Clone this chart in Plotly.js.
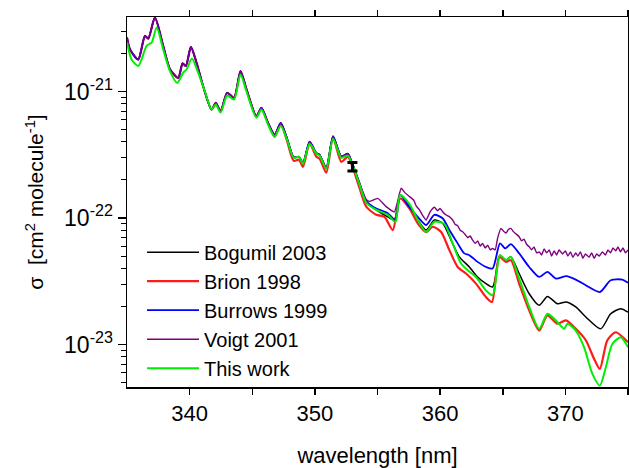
<!DOCTYPE html>
<html>
<head>
<meta charset="utf-8">
<script src="https://cdn.plot.ly/plotly-3.0.1.min.js"></script>
<style>html,body{margin:0;padding:0;background:#fff;}#chart{width:629px;height:468px;}</style>
</head>
<body>
<div id="chart"></div>
<script>
// ---- data (wavelength in nm, cross section in cm^2 molecule^-1) ----
var wlBurrows = [335.0,335.24,335.90,336.43,336.70,337.23,337.89,338.43,339.09,339.44,339.70,340.10,340.55,341.08,341.75,342.09,342.47,343.0,343.55,344.06,344.54,345.33,345.73,346.26,346.79,347.27,347.75,348.31,348.73,349.05,349.58,350.12,350.38,350.91,351.45,352.11,352.63,353.03,353.57,354.10,354.90,355.82,356.43,356.81,357.41,358.21,358.88,359.54,360.20,360.74,361.40,361.93,362.33,362.99,363.66,364.19,364.78,365.20,365.65,366.31,367.11,367.91,368.57,369.24,370.08,370.83,371.63,372.75,373.62,374.55,375.0];
var sBurrows = [2.67e-21,2.15e-21,1.79e-21,2.75e-21,2.62e-21,3.85e-21,2.29e-21,1.50e-21,1.28e-21,1.67e-21,1.59e-21,2.25e-21,1.69e-21,1.10e-21,7.2e-22,8.13e-22,6.98e-22,9.77e-22,8.91e-22,1.45e-21,1.04e-21,6.37e-22,7.43e-22,5.65e-22,4.56e-22,5.65e-22,4.35e-22,3.02e-22,3.05e-22,2.72e-22,4.01e-22,3.26e-22,3.16e-22,2.49e-22,4.42e-22,3.07e-22,3.22e-22,2.63e-22,1.88e-22,1.35e-22,1.19e-22,1.09e-22,9.64e-23,1.52e-22,1.27e-22,1.02e-22,8.80e-23,1.06e-22,9.95e-23,8.03e-23,6.30e-23,5.25e-23,5.08e-23,4.50e-23,4.10e-23,3.99e-23,6.30e-23,5.75e-23,6.22e-23,5.25e-23,4.10e-23,3.42e-23,3.75e-23,3.32e-23,3.47e-23,3.26e-23,2.94e-23,2.60e-23,3.22e-23,3.26e-23,3.07e-23];

var wlVoigt = [335.0,335.24,335.90,336.43,336.70,337.23,337.89,338.43,339.09,339.44,339.70,340.10,340.55,341.08,341.75,342.09,342.47,343.0,343.55,344.06,344.54,345.33,345.73,346.26,346.79,347.27,347.75,348.31,348.73,349.05,349.58,350.12,350.38,350.91,351.45,352.11,352.63,353.03,353.57,354.10,354.36,355.02,355.69,356.35,356.89,357.2,357.55,357.9,358.1,358.35,358.6,358.88,359.2,359.54,359.8,360.0,360.20,360.45,360.7,361.0,361.2,361.4,361.6,361.80,362.0,362.2,362.4,362.59,362.8,363.0,363.2,363.39,363.6,363.8,364.0,364.19,364.4,364.6,364.86,365.05,365.26,365.45,365.65,365.85,366.05,366.31,366.5,366.7,366.9,367.11,367.3,367.5,367.7,367.91,368.1,368.3,368.5,368.71,368.9,369.1,369.3,369.5,369.77,370.0,370.2,370.4,370.6,370.83,371.0,371.2,371.4,371.6,371.89,372.1,372.3,372.5,372.7,372.95,373.2,373.4,373.6,373.8,374.02,374.2,374.4,374.6,374.8,375.0];
var sVoigt = [2.67e-21,2.15e-21,1.79e-21,2.75e-21,2.62e-21,3.85e-21,2.29e-21,1.50e-21,1.28e-21,1.67e-21,1.59e-21,2.25e-21,1.69e-21,1.10e-21,7.2e-22,8.13e-22,6.98e-22,9.77e-22,8.91e-22,1.45e-21,1.04e-21,6.37e-22,7.43e-22,5.65e-22,4.56e-22,5.65e-22,4.35e-22,3.02e-22,3.05e-22,2.72e-22,4.01e-22,3.26e-22,3.16e-22,2.49e-22,4.42e-22,3.07e-22,3.22e-22,2.63e-22,1.88e-22,1.40e-22,1.35e-22,1.43e-22,1.23e-22,1.12e-22,1.72e-22,1.58e-22,1.48e-22,1.38e-22,1.24e-22,1.16e-22,1.05e-22,9.64e-23,1.12e-22,1.22e-22,1.14e-22,1.19e-22,1.12e-22,1.06e-22,1.03e-22,9.64e-23,8.9e-23,8.7e-23,8.0e-23,7.78e-23,7.4e-23,7.0e-23,7.2e-23,6.69e-23,6.3e-23,6.6e-23,6.0e-23,6.3e-23,5.8e-23,6.1e-23,5.6e-23,5.75e-23,5.6e-23,7.0e-23,8.28e-23,7.9e-23,7.6e-23,8.1e-23,8.28e-23,7.8e-23,7.5e-23,7.11e-23,6.6e-23,6.8e-23,6.2e-23,5.92e-23,5.6e-23,5.9e-23,5.3e-23,5.40e-23,5.1e-23,5.7e-23,5.3e-23,5.6e-23,5.0e-23,5.5e-23,5.1e-23,5.6e-23,5.2e-23,5.5e-23,5.0e-23,5.4e-23,4.9e-23,5.3e-23,5.0e-23,5.4e-23,4.8e-23,5.2e-23,4.9e-23,5.3e-23,4.8e-23,5.2e-23,5.0e-23,5.4e-23,5.1e-23,5.6e-23,5.3e-23,5.8e-23,5.5e-23,5.9e-23,5.4e-23,5.8e-23,5.3e-23,5.6e-23];

var wlBogumil = [335.0,335.24,335.90,336.43,336.70,337.23,337.89,338.43,339.09,339.44,339.70,340.10,340.55,341.08,341.75,342.09,342.47,343.0,343.55,344.06,344.54,345.33,345.73,346.26,346.79,347.27,347.75,348.31,348.73,349.05,349.58,350.12,350.38,350.91,351.45,352.11,352.63,353.03,353.57,354.10,354.90,355.82,356.35,356.81,357.55,358.21,358.88,359.54,360.20,360.87,361.53,362.33,362.99,363.66,364.19,364.78,365.26,365.65,366.31,367.11,367.91,368.57,369.37,370.08,370.83,371.63,372.82,373.62,374.42,375.0];
var sBogumil = [2.67e-21,2.15e-21,1.79e-21,2.75e-21,2.62e-21,3.85e-21,2.29e-21,1.50e-21,1.28e-21,1.67e-21,1.59e-21,2.25e-21,1.69e-21,1.10e-21,7.2e-22,8.13e-22,6.98e-22,9.77e-22,8.91e-22,1.45e-21,1.04e-21,6.37e-22,7.43e-22,5.65e-22,4.56e-22,5.65e-22,4.35e-22,3.02e-22,3.05e-22,2.72e-22,4.01e-22,3.26e-22,3.16e-22,2.49e-22,4.42e-22,3.07e-22,3.22e-22,2.63e-22,1.85e-22,1.36e-22,1.16e-22,1.02e-22,9.64e-23,1.52e-22,1.23e-22,9.64e-23,8.03e-23,9.64e-23,9.08e-23,6.69e-23,4.93e-23,4.10e-23,3.42e-23,3.03e-23,2.85e-23,5.08e-23,4.65e-23,4.93e-23,3.64e-23,2.52e-23,2.04e-23,2.40e-23,2.10e-23,2.17e-23,1.98e-23,1.65e-23,1.33e-23,1.75e-23,1.92e-23,1.80e-23];

var wlBrion = [335.0,335.24,335.90,336.43,336.70,337.23,337.89,338.43,339.09,339.44,339.70,340.10,340.55,341.08,341.75,342.09,342.47,343.0,343.55,344.06,344.54,345.33,345.73,346.26,346.79,347.27,347.75,348.31,348.73,349.05,349.58,350.12,350.38,350.91,351.45,352.11,352.63,353.03,353.57,354.10,354.90,355.56,356.22,356.81,357.55,358.21,358.88,359.41,360.08,360.74,361.40,362.07,362.86,363.66,364.14,364.72,365.26,365.65,366.31,367.11,367.91,368.57,369.37,370.04,370.83,371.63,372.29,372.75,373.35,374.02,375.0];
var sBrion = [2.67e-21,2.15e-21,1.79e-21,2.75e-21,2.62e-21,3.85e-21,2.29e-21,1.50e-21,1.28e-21,1.67e-21,1.59e-21,2.25e-21,1.69e-21,1.10e-21,7.2e-22,8.13e-22,6.98e-22,9.77e-22,8.91e-22,1.45e-21,1.04e-21,6.37e-22,7.43e-22,5.65e-22,4.39e-22,5.57e-22,4.16e-22,2.83e-22,2.89e-22,2.54e-22,3.87e-22,3.05e-22,2.94e-22,2.28e-22,4.31e-22,2.78e-22,3.05e-22,2.49e-22,1.72e-22,1.23e-22,1.06e-22,1.02e-22,8.03e-23,1.43e-22,1.19e-22,9.08e-23,7.74e-23,8.53e-23,7.74e-23,5.57e-23,4.10e-23,3.64e-23,3.03e-23,2.37e-23,2.17e-23,4.93e-23,4.50e-23,4.65e-23,3.03e-23,1.86e-23,1.29e-23,1.70e-23,1.46e-23,1.55e-23,1.33e-23,1.08e-23,7.71e-24,6.41e-24,1.08e-23,1.25e-23,1.04e-23];

var wlThis = [335.0,335.37,335.90,336.57,336.97,337.37,337.89,338.43,339.01,339.49,339.76,340.18,340.68,341.22,341.75,342.09,342.47,343.0,343.55,344.06,344.54,345.33,345.73,346.26,346.79,347.27,347.75,348.31,348.73,349.05,349.58,350.12,350.38,350.91,351.45,352.11,352.63,353.03,353.57,354.10,354.90,355.82,356.43,356.81,357.55,358.21,358.88,359.54,360.34,361.00,361.67,362.20,362.86,363.66,364.19,364.78,365.26,365.65,366.31,367.11,367.91,368.57,369.24,369.90,370.16,370.83,371.49,372.16,372.75,373.23,373.75,374.42,375.0];
var sThis = [2.44e-21,1.79e-21,1.59e-21,2.29e-21,2.44e-21,3.20e-21,2.15e-21,1.45e-21,1.17e-21,1.41e-21,1.50e-21,1.82e-21,1.41e-21,1.00e-21,7.2e-22,7.88e-22,6.81e-22,9.29e-22,8.64e-22,1.36e-21,1.00e-21,6.22e-22,7.20e-22,5.47e-22,4.39e-22,5.37e-22,4.24e-22,2.99e-22,3.05e-22,2.68e-22,3.87e-22,3.22e-22,3.11e-22,2.45e-22,4.24e-22,2.99e-22,3.11e-22,2.59e-22,1.83e-22,1.32e-22,1.16e-22,1.06e-22,9.35e-23,1.52e-22,1.29e-22,9.64e-23,7.78e-23,9.35e-23,8.96e-23,6.30e-23,4.37e-23,3.87e-23,3.42e-23,2.68e-23,2.45e-23,5.08e-23,4.65e-23,4.93e-23,3.32e-23,1.98e-23,1.33e-23,1.75e-23,1.55e-23,1.33e-23,1.46e-23,1.29e-23,9.52e-24,5.85e-24,4.73e-24,6.61e-24,1.01e-23,1.14e-23,9.52e-24];

var errWl = [353.0];
var errVal = [2.55e-22];
var errSize = [0.2e-22];

var xTickVals = [340,345,350,355,360,365,370,375];
var xTickText = ['340','','350','','360','','370',''];
var yTickVals = [1e-23,1e-22,1e-21];
var yTickText = ['10<sup>-23</sup>','10<sup>-22</sup>','10<sup>-21</sup>'];
var yMinorVals = [];
[1e-24,1e-23,1e-22,1e-21].forEach(function(d){for(var k=2;k<=9;k++){yMinorVals.push(k*d);}});

var FONT = 'Liberation Sans, Arial, Helvetica, sans-serif';
function tr(name, x, y, color, w, sm) {
  return {type:'scatter', mode:'lines', name:name, x:x, y:y,
          line:{color:color, width:w, shape:'spline', smoothing:sm}, hoverinfo:'skip'};
}
var data = [
  tr('Bogumil 2003', wlBogumil, sBogumil, '#000000', 1.5, 0.7),
  tr('Brion 1998', wlBrion, sBrion, '#ff1a1a', 2.2, 0.7),
  tr('Burrows 1999', wlBurrows, sBurrows, '#0000ff', 1.8, 0.7),
  tr('Voigt 2001', wlVoigt, sVoigt, '#800080', 1.4, 0.4),
  tr('This work', wlThis, sThis, '#00ee00', 2, 0.7),
  {type:'scatter', mode:'markers', x:errWl, y:errVal, showlegend:false, hoverinfo:'skip',
   marker:{size:3, color:'#000'},
   error_y:{type:'data', array:errSize, arrayminus:errSize, color:'#000', thickness:3, width:5}}
];
var layout = {
  width:629, height:468,
  margin:{l:127, r:1, t:17, b:81, pad:0},
  paper_bgcolor:'#fff', plot_bgcolor:'#fff',
  font:{family:FONT, color:'#000'},
  showlegend:true,
  legend:{x:0.03, y:0.417, xanchor:'left', yanchor:'top', bgcolor:'rgba(0,0,0,0)',
          font:{family:FONT, size:20, color:'#000'}, itemwidth:52, tracegroupgap:0},
  xaxis:{range:[335,375], showline:true, linecolor:'#000', linewidth:1.5, mirror:'ticks',
         ticks:'outside', ticklen:6, tickwidth:1.5, tickcolor:'#000',
         tickmode:'array', tickvals:xTickVals, ticktext:xTickText,
         showgrid:false, zeroline:false, tickfont:{family:FONT, size:22},
         title:{text:'wavelength [nm]', font:{family:FONT, size:22}, standoff:22}},
  yaxis:{type:'log', range:[-23.336,-20.411], showline:true, linecolor:'#000', linewidth:1.5, mirror:'ticks',
         ticks:'outside', ticklen:8, tickwidth:1.5, tickcolor:'#000',
         tickmode:'array', tickvals:yTickVals, ticktext:yTickText,
         minor:{tickmode:'array', tickvals:yMinorVals, ticks:'outside', ticklen:5, tickwidth:1, tickcolor:'#000', showgrid:false},
         showgrid:false, zeroline:false, tickfont:{family:FONT, size:23},
         title:{text:'\u03c3\u00a0\u00a0[cm<sup>2</sup> molecule<sup>-1</sup>]', font:{family:FONT, size:21}, standoff:14}}
};
Plotly.newPlot('chart', data, layout, {staticPlot:true, displayModeBar:false});
</script>
</body>
</html>
